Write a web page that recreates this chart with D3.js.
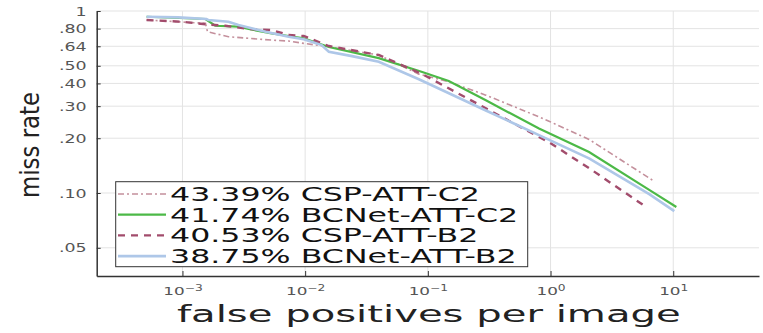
<!DOCTYPE html>
<html>
<head>
<meta charset="utf-8">
<script src="https://cdn.jsdelivr.net/npm/d3@7"></script>
<style>
  body { margin: 0; background: #fff; }
  svg { display: block; font-family: "DejaVu Sans", sans-serif; }
</style>
</head>
<body>
<svg id="chart" width="763" height="333"></svg>
<script>
// ---- data ----
const xTicks = [1e-3, 1e-2, 1e-1, 1, 10];
const xTickExponents = ['-3', '-2', '-1', '0', '1'];
const yTicks = [1, 0.8, 0.64, 0.5, 0.4, 0.3, 0.2, 0.1, 0.05];
const yTickLabels = ['1', '.80', '.64', '.50', '.40', '.30', '.20', '.10', '.05'];

const seriesNames = ['CSP-ATT-C2', 'BCNet-ATT-C2', 'CSP-ATT-B2', 'BCNet-ATT-B2'];
const seriesScores = ['43.39%', '41.74%', '40.53%', '38.75%'];

const cspC2Fppi = [5.1e-4, 1.54e-3, 1.6e-3, 2.37e-3, 3.46e-3, 5.33e-3, 7.33e-3, 9.73e-3, 0.0156, 0.0398, 0.0845, 0.148, 0.297, 0.805, 0.972, 2.06, 7.0];
const cspC2Miss = [0.892, 0.856, 0.769, 0.722, 0.708, 0.692, 0.684, 0.664, 0.636, 0.573, 0.450, 0.408, 0.345, 0.262, 0.248, 0.197, 0.116];

const bcC2Fppi = [5.1e-4, 1.54e-3, 1.85e-3, 2.86e-3, 3.46e-3, 5.33e-3, 7.33e-3, 9.73e-3, 0.0156, 0.0398, 0.09, 0.148, 0.297, 0.805, 2.06, 6.37, 10.6];
const bcC2Miss = [0.930, 0.904, 0.830, 0.820, 0.796, 0.754, 0.729, 0.708, 0.634, 0.551, 0.462, 0.413, 0.323, 0.226, 0.168, 0.104, 0.0838];

const cspB2Fppi = [5.1e-4, 9.8e-4, 1.54e-3, 2.24e-3, 3.46e-3, 5.33e-3, 7.33e-3, 9.73e-3, 0.0156, 0.0398, 0.09, 0.297, 0.805, 0.972, 2.06, 5.9];
const cspB2Miss = [0.892, 0.873, 0.845, 0.830, 0.796, 0.786, 0.738, 0.729, 0.642, 0.573, 0.450, 0.292, 0.203, 0.190, 0.137, 0.0845];

const bcB2Fppi = [5.1e-4, 9.27e-4, 1.57e-3, 1.63e-3, 2.37e-3, 2.86e-3, 3.66e-3, 4.76e-3, 7.33e-3, 9.73e-3, 0.0136, 0.0156, 0.0241, 0.0398, 0.0845, 0.297, 0.805, 2.06, 6.37, 10.2];
const bcB2Miss = [0.930, 0.923, 0.904, 0.892, 0.873, 0.838, 0.803, 0.769, 0.722, 0.699, 0.650, 0.597, 0.565, 0.526, 0.422, 0.284, 0.208, 0.155, 0.0985, 0.0796];

// ---- styles ----
const styles = [
  { color: '#c4909c', width: 1.6, dash: '6,3,2,3' },
  { color: '#4cb947', width: 2.2, dash: null },
  { color: '#a24c6c', width: 2.4, dash: '7,6' },
  { color: '#aec7e8', width: 2.6, dash: null },
];

const SX = 1.53; // the figure is stretched horizontally

const series = [
  d3.zip(cspC2Fppi, cspC2Miss),
  d3.zip(bcC2Fppi, bcC2Miss),
  d3.zip(cspB2Fppi, cspB2Miss),
  d3.zip(bcB2Fppi, bcB2Miss),
];

const svg = d3.select('#chart');
const margin = { top: 11, right: 4, bottom: 57, left: 96.7 };
const width = 763, height = 333;

const x = d3.scaleLog().domain([2e-4, 50]).range([margin.left, width - margin.right]);
const y = d3.scaleLog().domain([0.035, 1]).range([height - margin.bottom, margin.top]);

// gridlines
const grid = svg.append('g').attr('stroke', '#e3e3e3').attr('stroke-width', 1);
grid.selectAll('line.gx').data(xTicks).join('line')
  .attr('x1', d => x(d)).attr('x2', d => x(d))
  .attr('y1', y.range()[0]).attr('y2', y.range()[1]);
grid.selectAll('line.gy').data(yTicks).join('line')
  .attr('y1', d => y(d)).attr('y2', d => y(d))
  .attr('x1', x.range()[0]).attr('x2', x.range()[1]);

// curves
const line = d3.line().x(d => x(d[0])).y(d => y(d[1]));
svg.append('g').attr('fill', 'none')
  .selectAll('path').data(series).join('path')
  .attr('d', line)
  .attr('stroke', (d, i) => styles[i].color)
  .attr('stroke-width', (d, i) => styles[i].width)
  .attr('stroke-dasharray', (d, i) => styles[i].dash);

// axes
const yAxis = svg.append('g')
  .attr('transform', `translate(${margin.left},0)`)
  .call(d3.axisLeft(y).tickValues(yTicks).tickSizeInner(-4).tickSizeOuter(0)
    .tickFormat((d, i) => yTickLabels[i]));
yAxis.select('.domain').attr('stroke', '#333').attr('stroke-width', 1.5);
yAxis.selectAll('.tick line').attr('stroke', '#333');
yAxis.selectAll('.tick text')
  .attr('x', 0).attr('dy', '0.36em')
  .attr('transform', `translate(-10,0) scale(${SX},1)`)
  .attr('fill', '#555').style('font-size', '11.4px')
  .style('font-family', '"DejaVu Sans", sans-serif');

const xAxis = svg.append('g')
  .attr('transform', `translate(0,${height - margin.bottom})`)
  .call(d3.axisBottom(x).tickValues(xTicks).tickSizeInner(-5).tickSizeOuter(0).tickFormat(() => ''));
xAxis.select('.domain').attr('stroke', '#333').attr('stroke-width', 1.5);
xAxis.selectAll('.tick line').attr('stroke', '#333');
xAxis.selectAll('.tick text')
  .attr('y', 0).attr('dy', null)
  .attr('transform', `translate(0,19) scale(${SX},1)`)
  .attr('fill', '#555')
  .style('font-family', '"DejaVu Sans", sans-serif')
  .each(function (d, i) {
    const t = d3.select(this);
    t.append('tspan').style('font-size', '11px').text('10');
    t.append('tspan').style('font-size', '8px').attr('dy', -4.5).text(xTickExponents[i].replace('-', '\u2212'));
  });

// axis titles
const xTitle = svg.append('text')
  .attr('text-anchor', 'middle').attr('fill', '#222')
  .style('font-size', '23px')
  .text('false positives per image');
const xw = xTitle.node().getComputedTextLength();
xTitle.attr('transform', `translate(428.8,322) scale(${504 / xw},1)`);

const yTitle = svg.append('text')
  .attr('text-anchor', 'middle').attr('fill', '#222')
  .style('font-size', '27px')
  .text('miss rate');
const yw = yTitle.node().getComputedTextLength();
yTitle.attr('transform', `translate(39,145) rotate(-90) scale(${106 / yw},1)`);

// legend
const legend = svg.append('g');
legend.append('rect')
  .attr('x', 115.7).attr('y', 181.7).attr('width', 412).attr('height', 85)
  .attr('fill', '#fff').attr('stroke', '#333').attr('stroke-width', 1);
const rows = legend.selectAll('g.row').data(seriesNames).join('g')
  .attr('transform', (d, i) => `translate(0,${194 + i * 20.7})`);
rows.append('line')
  .attr('x1', 118).attr('x2', 166)
  .attr('stroke', (d, i) => styles[i].color)
  .attr('stroke-width', (d, i) => styles[i].width)
  .attr('stroke-dasharray', (d, i) => styles[i].dash);
const labels = rows.append('text')
  .attr('fill', '#111').style('font-size', '19.6px')
  .text((d, i) => `${seriesScores[i]} ${d}`);
const lw = labels.node().getComputedTextLength();
labels.attr('transform', `translate(170,7) scale(${310 / lw},1)`);
</script>
</body>
</html>
